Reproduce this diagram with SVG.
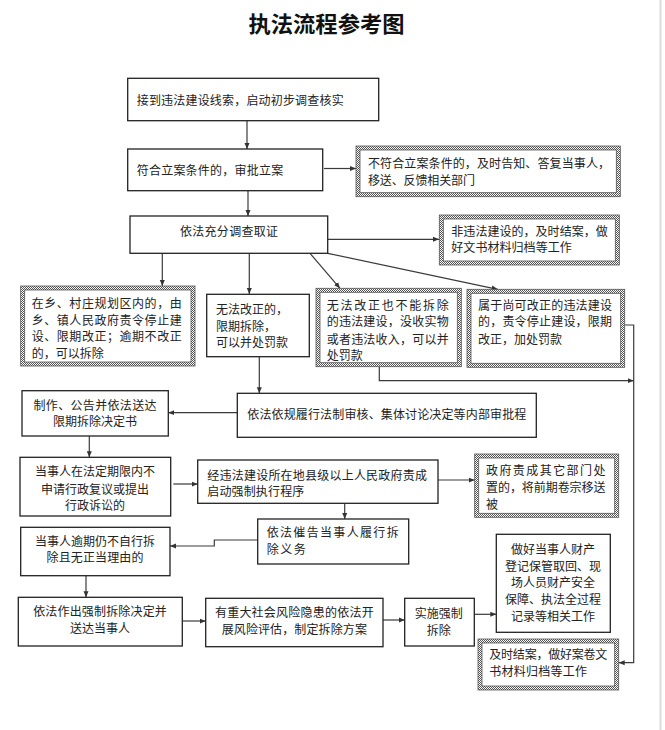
<svg xmlns="http://www.w3.org/2000/svg" width="665" height="730" viewBox="0 0 665 730">
<defs>
<pattern id="chk" x="0" y="0" width="2" height="2" patternUnits="userSpaceOnUse">
<rect width="2" height="2" fill="#ffffff"/>
<rect width="1" height="1" fill="#555"/>
<rect x="1" y="1" width="1" height="1" fill="#555"/>
</pattern>
<marker id="ah" markerWidth="7" markerHeight="6" refX="6" refY="3" orient="auto" markerUnits="userSpaceOnUse">
<path d="M0,0.5 L6,3 L0,5.5 z" fill="#333"/>
</marker>
<style>
.bx{fill:#fff;stroke:#222;stroke-width:1.3}
.ho{fill:url(#chk);stroke:#555;stroke-width:0.8}
.hi{fill:#fff;stroke:#555;stroke-width:0.8}
.t{font-family:"Noto Sans CJK SC","Noto Sans CJK JP",sans-serif;font-size:12px;fill:#222}
.m{text-anchor:middle}
.ttl{font-family:"Noto Sans CJK SC","Noto Sans CJK JP",sans-serif;font-size:22px;font-weight:bold;fill:#111;text-anchor:middle}
.c{fill:none;stroke:#3a3a3a;stroke-width:1.2}
.a{marker-end:url(#ah)}
</style>
</defs>
<rect width="665" height="730" fill="#fff"/>
<line x1="660.5" y1="0" x2="660.5" y2="730" stroke="#dcdcdc" stroke-width="2"/>
<text class="ttl" x="326.5" y="32" textLength="156" lengthAdjust="spacingAndGlyphs">执法流程参考图</text>

<g id="connectors">
<line class="c a" x1="247" y1="121" x2="247" y2="149"/>
<line class="c a" x1="248" y1="191" x2="248" y2="216"/>
<line class="c a" x1="324" y1="168.5" x2="356" y2="168.5"/>
<line class="c a" x1="328" y1="239.3" x2="439" y2="239.3"/>
<line class="c a" x1="162.3" y1="253.3" x2="162.3" y2="286"/>
<line class="c a" x1="249.3" y1="253.3" x2="249.3" y2="294"/>
<line class="c a" x1="310" y1="253.3" x2="340" y2="288.3"/>
<line class="c a" x1="327.7" y1="253.3" x2="497.7" y2="289.3"/>
<line class="c a" x1="259.3" y1="356.7" x2="259.3" y2="393.3"/>
<line class="c a" x1="237.3" y1="412.7" x2="168.3" y2="412.7"/>
<line class="c a" x1="89.3" y1="436" x2="89.3" y2="457.3"/>
<line class="c a" x1="173.3" y1="484" x2="197.7" y2="484"/>
<line class="c a" x1="438" y1="480" x2="474.7" y2="480"/>
<line class="c a" x1="344.7" y1="503.3" x2="344.7" y2="519"/>
<polyline class="c a" points="257.7,540 214.3,540 214.3,546 170,546"/>
<line class="c a" x1="86" y1="576" x2="86" y2="597.3"/>
<line class="c a" x1="182.3" y1="621" x2="205.7" y2="621"/>
<line class="c a" x1="383" y1="620" x2="404.7" y2="620"/>
<line class="c a" x1="474.3" y1="614.3" x2="496.3" y2="614.3"/>
<polyline class="c a" points="379.3,366.7 379.3,380.7 633.7,380.7"/>
<polyline class="c a" points="624.7,325 633.7,325 633.7,662.7 618.7,662.7"/>
</g>

<g id="n1"><rect class="bx" x="127.7" y="78.3" width="251" height="42.4"/>
<text class="t" x="136.7" y="104.5" textLength="207" lengthAdjust="spacing">接到违法建设线索，启动初步调查核实</text></g>

<g id="n2"><rect class="bx" x="127.7" y="149" width="195" height="41.7"/>
<text class="t" x="136.7" y="175" textLength="146.5" lengthAdjust="spacing">符合立案条件的，审批立案</text></g>

<g id="n3"><rect class="ho" x="356" y="146" width="264.3" height="50.7"/><rect class="hi" x="360" y="150" width="256.3" height="42.7"/>
<text class="t" x="368" y="168" textLength="242" lengthAdjust="spacing">不符合立案条件的，及时告知、答复当事人，</text>
<text class="t" x="368" y="184.5" textLength="107" lengthAdjust="spacing">移送、反馈相关部门</text></g>

<g id="n4"><rect class="bx" x="130" y="216" width="197.7" height="37.3"/>
<text class="t m" x="229" y="235.5" textLength="98" lengthAdjust="spacing">依法充分调查取证</text></g>

<g id="n5"><rect class="ho" x="439.3" y="215" width="180" height="50"/><rect class="hi" x="443.3" y="219" width="172" height="42"/>
<text class="t" x="451.3" y="235.5" textLength="156.5" lengthAdjust="spacing">非违法建设的，及时结案，做</text>
<text class="t" x="451.3" y="252" textLength="120.5" lengthAdjust="spacing">好文书材料归档等工作</text></g>

<g id="n6"><rect class="ho" x="20.7" y="286" width="174.3" height="80"/><rect class="hi" x="24.7" y="290" width="166.3" height="72"/>
<text class="t" x="31.7" y="308" textLength="150" lengthAdjust="spacing">在乡、村庄规划区内的，由</text>
<text class="t" x="31.7" y="324.5" textLength="150" lengthAdjust="spacing">乡、镇人民政府责令停止建</text>
<text class="t" x="31.7" y="341" textLength="150" lengthAdjust="spacing">设、限期改正；逾期不改正</text>
<text class="t" x="31.7" y="358" textLength="72" lengthAdjust="spacing">的，可以拆除</text></g>

<g id="n7"><rect class="bx" x="206.7" y="294.3" width="102.6" height="62.4"/>
<text class="t" x="216" y="314">无法改正的，</text>
<text class="t" x="216" y="330.5">限期拆除，</text>
<text class="t" x="216" y="347">可以并处罚款</text></g>

<g id="n8"><rect class="ho" x="316" y="288.3" width="145.3" height="78.4"/><rect class="hi" x="320" y="292.3" width="137.3" height="70.4"/>
<text class="t" x="326.7" y="309.5" textLength="122" lengthAdjust="spacing">无法改正也不能拆除</text>
<text class="t" x="326.7" y="326" textLength="122" lengthAdjust="spacing">的违法建设，没收实物</text>
<text class="t" x="326.7" y="343.5" textLength="122" lengthAdjust="spacing">或者违法收入，可以并</text>
<text class="t" x="326.7" y="360">处罚款</text></g>

<g id="n9"><rect class="ho" x="467" y="289.3" width="157.7" height="78"/><rect class="hi" x="471" y="293.3" width="149.7" height="70"/>
<text class="t" x="478" y="309.5" textLength="134" lengthAdjust="spacing">属于尚可改正的违法建设</text>
<text class="t" x="478" y="326" textLength="134" lengthAdjust="spacing">的，责令停止建设，限期</text>
<text class="t" x="478" y="343.5" textLength="84" lengthAdjust="spacing">改正，加处罚款</text></g>

<g id="n10"><rect class="bx" x="237.3" y="393.3" width="299" height="44"/>
<text class="t" x="247.3" y="419" textLength="279" lengthAdjust="spacing">依法依规履行法制审核、集体讨论决定等内部审批程</text></g>

<g id="n11"><rect class="bx" x="22" y="390.7" width="146.3" height="45.3"/>
<text class="t m" x="95" y="410" textLength="123" lengthAdjust="spacing">制作、公告并依法送达</text>
<text class="t m" x="95" y="426" textLength="84" lengthAdjust="spacing">限期拆除决定书</text></g>

<g id="n12"><rect class="bx" x="20" y="457.3" width="150.7" height="58.7"/>
<text class="t m" x="95" y="475.5" textLength="120" lengthAdjust="spacing">当事人在法定期限内不</text>
<text class="t m" x="95" y="493.5" textLength="108" lengthAdjust="spacing">申请行政复议或提出</text>
<text class="t m" x="95" y="510">行政诉讼的</text></g>

<g id="n13"><rect class="bx" x="197.7" y="460" width="240.3" height="43.3"/>
<text class="t" x="207.3" y="479.5" textLength="219.7" lengthAdjust="spacing">经违法建设所在地县级以上人民政府责成</text>
<text class="t" x="207.3" y="496" textLength="97" lengthAdjust="spacing">启动强制执行程序</text></g>

<g id="n14"><rect class="ho" x="474.7" y="454" width="144" height="63.3"/><rect class="hi" x="478.7" y="458" width="136" height="55.3"/>
<text class="t" x="486" y="474.5" textLength="119.5" lengthAdjust="spacing">政府责成其它部门处</text>
<text class="t" x="486" y="492" textLength="119.5" lengthAdjust="spacing">置的，将前期卷宗移送</text>
<text class="t" x="486" y="508.5">被</text></g>

<g id="n15"><rect class="bx" x="257.7" y="519" width="151" height="45"/>
<text class="t" x="266.7" y="537" textLength="132" lengthAdjust="spacing">依法催告当事人履行拆</text>
<text class="t" x="266.7" y="553.5" textLength="39" lengthAdjust="spacing">除义务</text></g>

<g id="n16"><rect class="bx" x="20.7" y="527.3" width="149.3" height="48.4"/>
<text class="t m" x="95" y="545.5" textLength="120" lengthAdjust="spacing">当事人逾期仍不自行拆</text>
<text class="t m" x="95" y="562" textLength="97" lengthAdjust="spacing">除且无正当理由的</text></g>

<g id="n17"><rect class="bx" x="18.3" y="597.3" width="164" height="48.7"/>
<text class="t m" x="100" y="616" textLength="133.7" lengthAdjust="spacing">依法作出强制拆除决定并</text>
<text class="t m" x="100" y="633">送达当事人</text></g>

<g id="n18"><rect class="bx" x="205.7" y="598.3" width="177.3" height="48.4"/>
<text class="t m" x="294.3" y="617" textLength="158.7" lengthAdjust="spacing">有重大社会风险隐患的依法开</text>
<text class="t m" x="294.3" y="634" textLength="145.3" lengthAdjust="spacing">展风险评估，制定拆除方案</text></g>

<g id="n19"><rect class="bx" x="404.7" y="598.3" width="69.6" height="47.7"/>
<text class="t m" x="438.7" y="618">实施强制</text>
<text class="t m" x="438.7" y="634.5">拆除</text></g>

<g id="n20"><rect class="bx" x="496.3" y="534.3" width="114" height="98"/>
<text class="t m" x="553" y="554">做好当事人财产</text>
<text class="t m" x="553" y="570.5">登记保管取回、现</text>
<text class="t m" x="553" y="587">场人员财产安全</text>
<text class="t m" x="553" y="604">保障、执法全过程</text>
<text class="t m" x="553" y="620.5">记录等相关工作</text></g>

<g id="n21"><rect class="ho" x="478" y="639" width="140.7" height="51"/><rect class="hi" x="482" y="643" width="132.7" height="43"/>
<text class="t" x="489.3" y="658.5" textLength="118" lengthAdjust="spacing">及时结案，做好案卷文</text>
<text class="t" x="489.3" y="676" textLength="97.7" lengthAdjust="spacing">书材料归档等工作</text></g>
</svg>
